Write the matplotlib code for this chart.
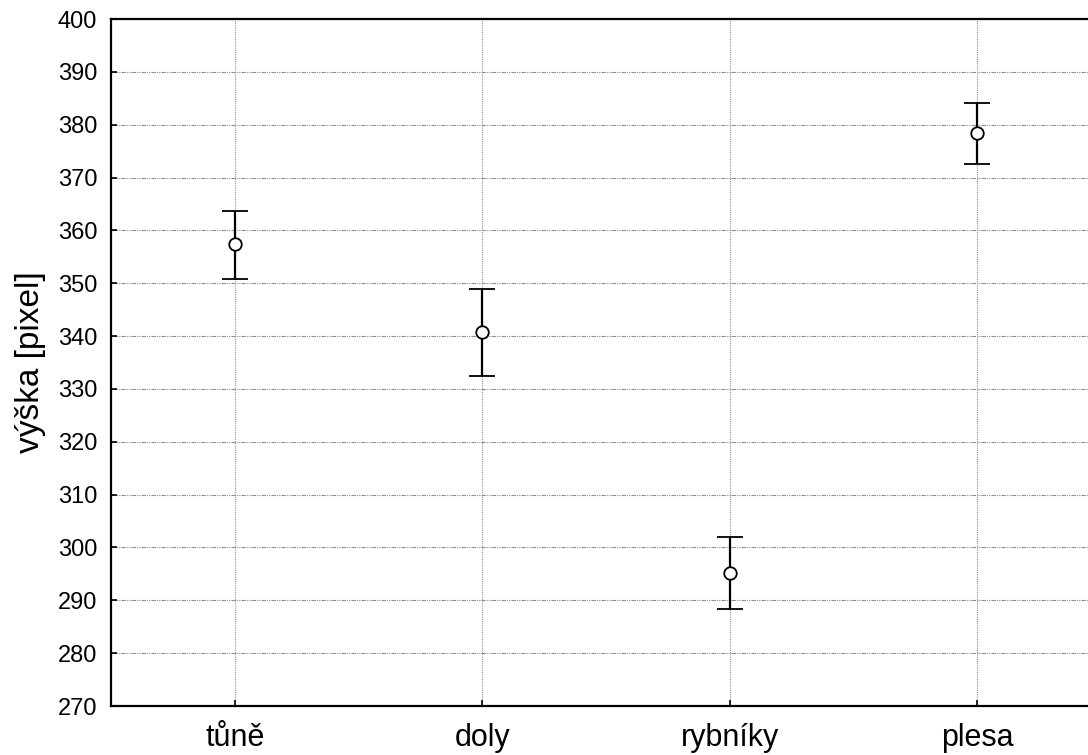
import matplotlib
matplotlib.use("Agg")
import matplotlib.pyplot as plt
import numpy as np

# Data
categories = ["tůně", "doly", "rybníky", "plesa"]
means = [357.4, 340.8, 295.2, 378.4]
upper = [363.7, 348.9, 302.0, 384.1]
lower = [350.8, 332.5, 288.4, 372.6]

plt.rcParams["font.family"] = ["Liberation Sans", "DejaVu Sans"]

fig = plt.figure(figsize=(10.88, 7.55), dpi=100)
# right edge is cut off in the reference, so the axes run past the figure
ax = fig.add_axes([111 / 1088, 1 - 706 / 755, (1101 - 111) / 1088, (706 - 19) / 755])

x = np.arange(len(categories)) + 0.5
means_a = np.array(means)
yerr = [means_a - np.array(lower), np.array(upper) - means_a]

ax.errorbar(x, means, yerr=yerr, fmt="o", color="black", ecolor="black",
            markerfacecolor="white", markeredgecolor="black", markersize=9,
            markeredgewidth=1.3, elinewidth=1.6, capsize=9.5, capthick=1.6,
            zorder=3)

ax.set_xlim(0, len(categories))
ax.set_ylim(270, 400)
ax.set_yticks(np.arange(270, 401, 10))
ax.set_xticks(x)
ax.set_xticklabels(categories)

ax.grid(True, axis="y", color="#909090", linewidth=0.8, linestyle=(0, (4, 1, 1, 1, 1, 1)))
ax.grid(True, axis="x", color="#909090", linewidth=0.8, linestyle=(0, (1, 1)))
ax.set_axisbelow(True)

for side in ["left", "bottom", "top"]:
    ax.spines[side].set_linewidth(1.6)
    ax.spines[side].set_color("black")
ax.spines["right"].set_visible(False)

ax.tick_params(axis="both", direction="in", length=4, width=1.2)
ax.tick_params(axis="y", labelsize=17, pad=10)
ax.tick_params(axis="x", pad=12, labelsize=22)
ax.set_ylabel("výška [pixel]", fontsize=24, labelpad=8)

fig.savefig("out.png", dpi=100)
